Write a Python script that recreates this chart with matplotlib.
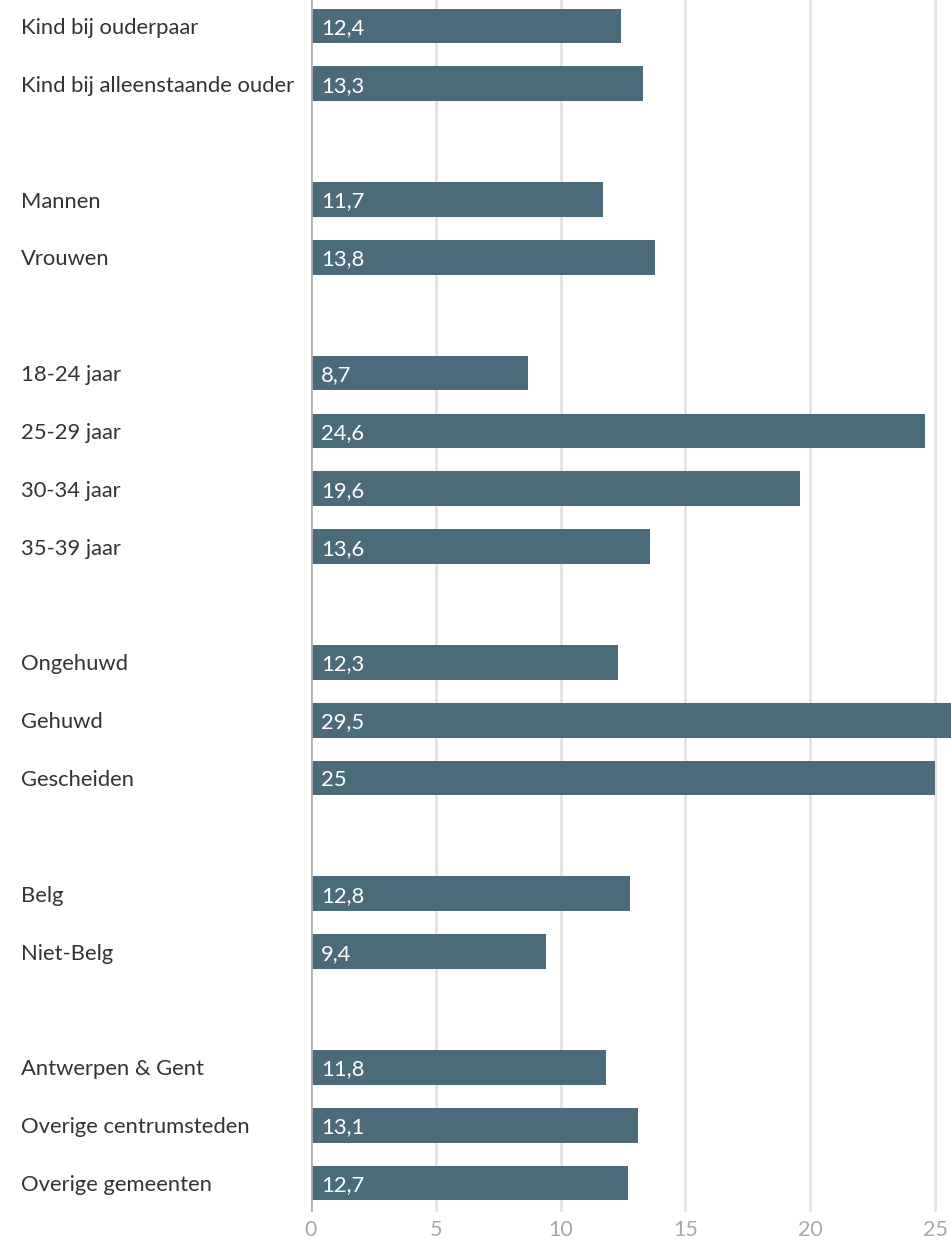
import matplotlib.pyplot as plt
import matplotlib.transforms as mtransforms

# groepen van categorieen, met een lege rij ertussen
groepen = [
    ["Kind bij ouderpaar", "Kind bij alleenstaande ouder"],
    ["Mannen", "Vrouwen"],
    ["18-24 jaar", "25-29 jaar", "30-34 jaar", "35-39 jaar"],
    ["Ongehuwd", "Gehuwd", "Gescheiden"],
    ["Belg", "Niet-Belg"],
    ["Antwerpen & Gent", "Overige centrumsteden", "Overige gemeenten"],
]
waarden = [
    [12.4, 13.3],
    [11.7, 13.8],
    [8.7, 24.6, 19.6, 13.6],
    [12.3, 29.5, 25],
    [12.8, 9.4],
    [11.8, 13.1, 12.7],
]
xticks = [0, 5, 10, 15, 20, 25]

plt.rcParams['font.family'] = ['Lato', 'DejaVu Sans']

labels, vals, pos = [], [], []
rij = 0
for g, w in zip(groepen, waarden):
    for lab, v in zip(g, w):
        labels.append(lab)
        vals.append(v)
        pos.append(rij)
        rij += 1
    rij += 1  # lege rij
nrij = rij - 1

W, H = 951, 1240
fig = plt.figure(figsize=(W / 100, H / 100), dpi=100)
ax = fig.add_axes([311 / W, 1 - 1212 / H, 1 - 311 / W, (1212 + 3) / H])

kleur = '#4b6b7b'
ax.barh(pos, vals, height=0.6, color=kleur, zorder=3)
ax.set_ylim(nrij - 0.5, -0.5)
ax.set_xlim(0, (W - 311) / 24.96)

for x in xticks[1:]:
    ax.axvline(x, color='#e3e3e3', lw=2, zorder=1)
ax.axvline(0, color='#b0b0b0', lw=2, zorder=4)

for s in ax.spines.values():
    s.set_visible(False)
ax.set_yticks([])
ax.set_xticks(xticks)
ax.tick_params(axis='x', length=0, pad=6, labelsize=15.5, labelcolor='#a8a8a8')

trans = mtransforms.blended_transform_factory(fig.transFigure, ax.transData)
for p, lab, v in zip(pos, labels, vals):
    ax.text(21 / W, p, lab, transform=trans, ha='left', va='center_baseline',
            fontsize=15.8, color='#333333')
    ax.text(0.4, p, f"{v:g}".replace('.', ','), ha='left', va='center_baseline',
            fontsize=15.8, color='white', zorder=5)

fig.savefig('out.png', dpi=100)
